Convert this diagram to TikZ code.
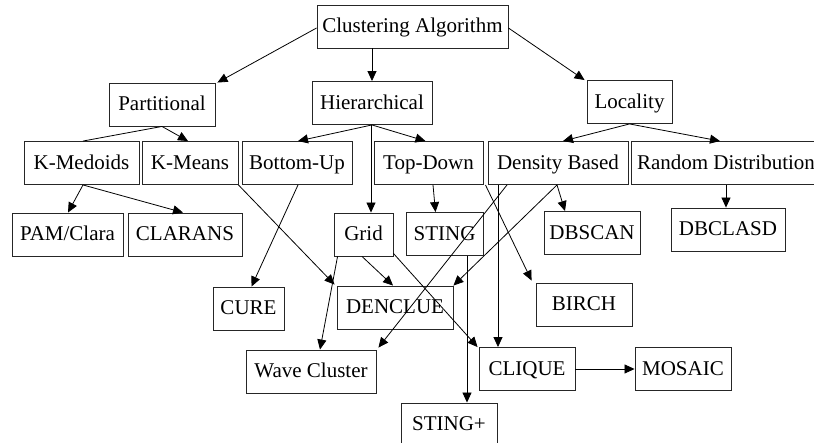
\documentclass[tikz,border=0pt]{standalone}
\usepackage{fontspec}
\setmainfont{Liberation Serif}
\usetikzlibrary{arrows.meta,calc}

\tikzset{
  box/.style={draw=black!85, line width=0.9pt, rectangle, inner sep=0pt,
    minimum height=43pt, align=center, text height=13pt, text depth=0pt,
    font=\fontsize{21}{24}\selectfont},
  edge/.style={draw=black, line width=0.8pt,
    -{Triangle[length=10pt,width=9pt]}},
  plain/.style={draw=black, line width=0.8pt}
}

\begin{document}
\begin{tikzpicture}[x=1pt,y=-1pt]
  \clip (0,0) rectangle (814,443);
  \fill[white] (0,0) rectangle (814,443);

  % top level
  \node[box, minimum width=191pt] (ca) at (412.5,26.5) {Clustering Algorithm};

  % families
  \node[box, minimum width=106pt] (part) at (162,104.5) {Partitional};
  \node[box, minimum width=120pt] (hier) at (372,103) {Hierarchical};
  \node[box, minimum width=85pt]  (loc)  at (629.5,102) {Locality};

  % sub-families
  \node[box, minimum width=115pt] (kmed)   at (81.5,163) {K-Medoids};
  \node[box, minimum width=96pt]  (kmeans) at (190,163)  {K-Means};
  \node[box, minimum width=110pt] (bu)     at (297,163)  {Bottom-Up};
  \node[box, minimum width=109pt] (td)     at (428.5,163) {Top-Down};
  \node[box, minimum width=140pt] (db)     at (558,163)  {Density Based};
  \node[box, minimum width=190pt] (rd)     at (726,163)  {Random Distribution};

  % algorithms
  \node[box, minimum width=111pt] (pam)     at (67.5,234.5) {PAM/Clara};
  \node[box, minimum width=114pt] (clarans) at (185,234.5)  {CLARANS};
  \node[box, minimum width=59pt]  (grid)    at (363.5,234.5) {Grid};
  \node[box, minimum width=77pt]  (sting)   at (444.5,234)  {STING};
  \node[box, minimum width=96pt]  (dbscan)  at (592,233)    {DBSCAN};
  \node[box, minimum width=114pt] (dbclasd) at (728,229.5)  {DBCLASD};
  \node[box, minimum width=71pt]  (cure)    at (248.5,308.5) {CURE};
  \node[box, minimum width=116pt] (denclue) at (395,307.5)  {DENCLUE};
  \node[box, minimum width=96pt]  (birch)   at (584,304.5)  {BIRCH};
  \node[box, minimum width=130pt] (wave)    at (311,371.5)  {Wave Cluster};
  \node[box, minimum width=96pt]  (clique)  at (527,369)    {CLIQUE};
  \node[box, minimum width=96pt]  (mosaic)  at (683,369)    {MOSAIC};
  \node[box, minimum width=96pt]  (stingp)  at (449,424.5)  {STING+};

  % connectors
  \draw[edge] ([yshift=-1.5pt]ca.west) -- ([xshift=2pt]part.north east);
  \draw[edge] (hier.north |- ca.south) -- (hier.north);
  \draw[edge] ([yshift=-1.5pt]ca.east) -- ([xshift=-2pt]loc.north west);

  \draw[edge]  (part.south) -- ([xshift=-2pt]kmeans.north);
  \draw[plain] (part.south) -- ([xshift=1.5pt]kmed.north);

  \draw[edge] (hier.south) -- ([xshift=1pt]bu.north);
  \draw[edge] (hier.south) -- ([xshift=-3pt]td.north);
  \draw[edge] ([xshift=-1pt]hier.south) -- ([xshift=-1pt]hier.south |- grid.north);

  \draw[edge] (loc.south) -- ([xshift=5pt]db.north);
  \draw[edge] (loc.south) -- ([xshift=-6pt]rd.north);

  \draw[edge] ([xshift=1.5pt]kmed.south) -- ([xshift=0.5pt]pam.north);
  \draw[edge] ([xshift=1.5pt]kmed.south) -- ([xshift=-2pt]clarans.north);

  \draw[edge] (kmeans.south east) -- ([xshift=-2pt,yshift=1pt]denclue.north west);
  \draw[edge] ([xshift=1pt]bu.south) -- ([xshift=3pt]cure.north);

  \draw[edge] ([xshift=4.5pt]td.south) -- ([xshift=-9pt]sting.north);
  \draw[edge] ([xshift=2pt]td.south east) -- ([xshift=-4pt,yshift=2pt]birch.north west);

  \draw[edge] ([xshift=-51pt]db.south) -- ([xshift=2pt,yshift=2pt]wave.north east);
  \draw[edge] ([xshift=-1pt]db.south) -- (denclue.north east);
  \draw[edge] ([xshift=-1pt]db.south) -- ([xshift=-27pt]dbscan.north);
  \draw[edge] ([xshift=-60pt]db.south) -- ([xshift=-60pt]db.south |- clique.north);
  \draw[edge] (rd.south) -- (rd.south |- dbclasd.north);

  \draw[edge] ([xshift=-1.5pt]grid.south) -- ([xshift=-2pt]denclue.north);
  \draw[edge] ([xshift=4pt]grid.south west) -- ([xshift=9pt]wave.north);
  \draw[edge] ([yshift=3pt]grid.south east) -- ([xshift=-1pt]clique.north west);

  \draw[edge] ([xshift=22.5pt]sting.south) -- ([xshift=22.5pt]sting.south |- stingp.north);
  \draw[edge] (clique.east) -- (mosaic.west);
\end{tikzpicture}
\end{document}
